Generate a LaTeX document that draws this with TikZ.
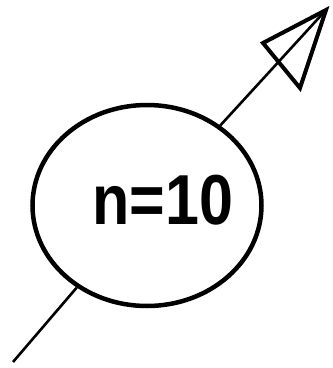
\documentclass[tikz,border=0pt]{standalone}
\usepackage{fontspec}
\setmainfont{Liberation Sans}
\usetikzlibrary{shapes.geometric}
\begin{document}
\begin{tikzpicture}[x=1pt,y=-1pt,
  conn/.style={line width=2.6pt},
  headshape/.style={draw, line width=4pt, line join=miter},
  ringnode/.style={draw, ellipse, line width=4.5pt, minimum width=229pt, minimum height=201pt, inner sep=0pt},
  labnode/.style={anchor=base, inner sep=0pt, font=\bfseries\fontsize{61}{61}\selectfont}]
\useasboundingbox (0,0) rectangle (333,368);
\node[ringnode] (ell) at (147,205.5) {};
\node[labnode] (lab) at (163,224) {\scalebox{1}[1.16]{n=10}};
\coordinate (start) at (13,362);
\coordinate (tip) at (326,10);
\draw[conn] (start) -- (ell);
\draw[conn] (ell) -- (tip);
\draw[headshape] (tip) -- ++(-63,33) -- ++(37,45) -- cycle;
\end{tikzpicture}
\end{document}
